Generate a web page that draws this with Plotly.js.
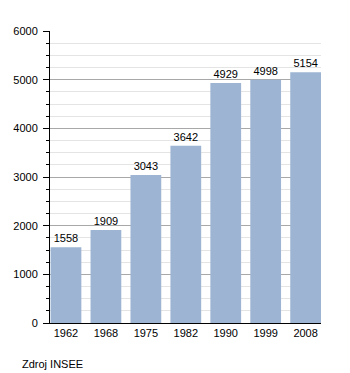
<!DOCTYPE html>
<html><head><meta charset="utf-8">
<script src="https://cdn.plot.ly/plotly-3.0.1.min.js"></script>
<style>html,body{margin:0;padding:0;background:#fff}#c{width:350px;height:373px}</style>
</head><body><div id="c"></div>
<script>
const years = ["1962","1968","1975","1982","1990","1999","2008"];
const population = [1558,1909,3043,3642,4929,4998,5154];
const sourceNote = "Zdroj INSEE";

Plotly.newPlot('c', [{
  type: 'bar',
  x: years,
  y: population,
  text: population.map(String),
  textposition: 'outside',
  cliponaxis: false,
  textfont: {family: 'Liberation Sans, Arial, sans-serif', size: 11, color: '#000'},
  marker: {color: '#9db5d2'},
  hoverinfo: 'none'
}], {
  width: 350, height: 373,
  margin: {l: 50, r: 29, t: 31, b: 50},
  paper_bgcolor: '#fff', plot_bgcolor: '#fff',
  bargap: 0.23,
  font: {family: 'Liberation Sans, Arial, sans-serif', size: 11, color: '#000'},
  showlegend: false,
  xaxis: {
    type: 'category',
    range: [-0.4, 6.385],
    showline: true, linecolor: '#000', linewidth: 1,
    ticks: '', showgrid: false,
    tickfont: {size: 11}
  },
  yaxis: {
    range: [0, 6000],
    dtick: 1000,
    showline: true, linecolor: '#000', linewidth: 1,
    ticks: 'outside', ticklen: 6, tickcolor: '#000',
    ticklabelstandoff: 3,
    gridcolor: '#a8a8a8', gridwidth: 1,
    zeroline: false,
    tickfont: {size: 11},
    minor: {dtick: 250, ticks: 'outside', ticklen: 3, tickcolor: '#000', showgrid: true, gridcolor: '#e4e4e4', gridwidth: 1}
  },
  annotations: [{
    text: sourceNote, xref: 'paper', yref: 'paper',
    x: -0.11, y: -0.14, xanchor: 'left', yanchor: 'middle',
    showarrow: false, font: {size: 11, color: '#000'}
  }]
}, {displayModeBar: false, staticPlot: true});
</script></body></html>
